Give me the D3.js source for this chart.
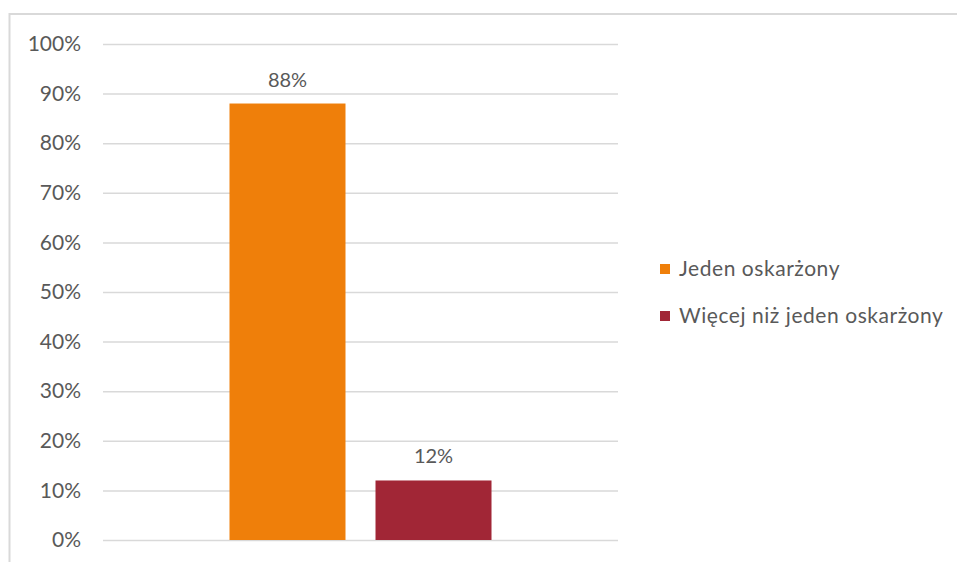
<!DOCTYPE html>
<html>
<head>
<meta charset="utf-8">
<script src="https://cdn.jsdelivr.net/npm/d3@7"></script>
<style>
  html, body { margin: 0; padding: 0; background: #fff; }
  svg { display: block; }
  text { font-family: Lato, "Open Sans", sans-serif; fill: #595959; }
</style>
</head>
<body>
<svg id="chart" width="957" height="562"></svg>
<script>
// Share of cases by number of defendants
const categories = ["Sprawy"];
const seriesNames = ["Jeden oskarżony", "Więcej niż jeden oskarżony"];
const seriesValues = [0.88, 0.12];
const seriesColors = ["#EF7F0A", "#A12636"];
const yTicks = [0, 0.1, 0.2, 0.3, 0.4, 0.5, 0.6, 0.7, 0.8, 0.9, 1.0];

const svg = d3.select("#chart");
const W = 957, H = 562;

// Chart frame (extends past the visible area on the right and bottom)
svg.append("rect")
  .attr("x", 9.5).attr("y", 14).attr("width", W + 20).attr("height", H + 20)
  .attr("fill", "none").attr("stroke", "#d9d9d9").attr("stroke-width", 2);

const plot = { left: 103, right: 618, top: 44, bottom: 540 };

const y = d3.scaleLinear().domain([0, 1]).range([plot.bottom, plot.top]);
const x0 = d3.scaleBand().domain(categories)
  .range([plot.left, plot.right]).paddingOuter(0.4828).paddingInner(0);
const x1 = d3.scaleBand().domain(seriesNames)
  .range([0, x0.bandwidth()]).paddingInner(0.2055).paddingOuter(0);

// Horizontal gridlines
const yAxis = d3.axisLeft(y).tickValues(yTicks)
  .tickFormat(d3.format(".0%"))
  .tickSize(-(plot.right - plot.left)).tickPadding(22);
const gy = svg.append("g")
  .attr("transform", `translate(${plot.left},0)`)
  .call(yAxis);
gy.select(".domain").remove();
gy.selectAll(".tick line").attr("stroke", "#d9d9d9").attr("stroke-width", 1.5);
gy.selectAll(".tick text").attr("font-size", 21).attr("fill", "#595959")
  .style("font-family", "Lato, 'Open Sans', sans-serif");

// Bars
const rows = seriesNames.map((name, i) => ({ cat: categories[0], name, value: seriesValues[i], color: seriesColors[i] }));
const g = svg.append("g");
g.selectAll("rect.bar").data(rows).join("rect")
  .attr("class", "bar")
  .attr("x", d => x0(d.cat) + x1(d.name))
  .attr("width", x1.bandwidth())
  .attr("y", d => y(d.value))
  .attr("height", d => y(0) - y(d.value))
  .attr("fill", d => d.color);

// Value labels
g.selectAll("text.val").data(rows).join("text")
  .attr("class", "val")
  .attr("x", d => x0(d.cat) + x1(d.name) + x1.bandwidth() / 2)
  .attr("y", d => y(d.value) - 17)
  .attr("text-anchor", "middle")
  .attr("font-size", 20)
  .text(d => d3.format(".0%")(d.value));

// Legend
const legend = svg.append("g").attr("transform", "translate(660,269)");
const items = legend.selectAll("g").data(rows).join("g")
  .attr("transform", (d, i) => `translate(0,${i * 47})`);
items.append("rect").attr("x", 0).attr("y", -5).attr("width", 10).attr("height", 10)
  .attr("fill", d => d.color);
items.append("text").attr("x", 19).attr("y", 0).attr("dy", "0.35em")
  .attr("font-size", 21).attr("letter-spacing", 0.55).text(d => d.name);
</script>
</body>
</html>
